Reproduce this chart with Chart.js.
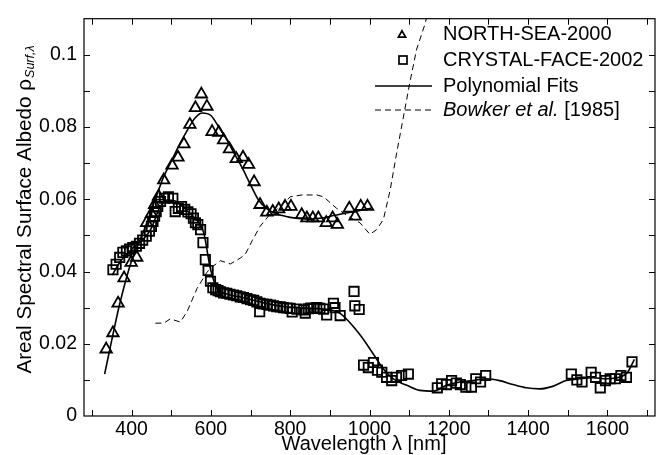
<!DOCTYPE html>
<html>
<head>
<meta charset="utf-8">
<script src="https://cdn.jsdelivr.net/npm/chart.js@4.4.0/dist/chart.umd.min.js"></script>
<style>
html, body { margin: 0; padding: 0; background: #fff; }
#wrap { width: 664px; height: 455px; }
</style>
</head>
<body>
<div id="wrap"><canvas id="albedoChart"></canvas></div>
<script>
// NORTH-SEA-2000 measurements (triangles)
const nsWave = [336, 353, 366, 381, 399, 413, 438, 450, 458, 468, 481, 502, 517, 532, 547, 561, 576, 590, 603, 620,
	632, 647, 664, 681, 695, 709, 724, 741, 756, 771, 787, 802, 829, 842, 857, 871, 891, 907, 919, 949, 964, 978, 995];
const nsAlbedo = [0.0185, 0.023, 0.0312, 0.0382, 0.0425, 0.0439, 0.0535, 0.056, 0.0585, 0.0608, 0.0653, 0.0694, 0.0716, 0.0753, 0.0807, 0.0853, 0.0891, 0.0857, 0.0787, 0.0785,
	0.0764, 0.0739, 0.0712, 0.0716, 0.0696, 0.0648, 0.0585, 0.0564, 0.0566, 0.0573, 0.058, 0.058, 0.0557, 0.0548, 0.0548, 0.0548, 0.0535, 0.0548, 0.053, 0.0575, 0.0553, 0.058, 0.058];

// CRYSTAL-FACE-2002 measurements (squares)
const cfWave = [353, 361, 370, 378, 387, 395, 403, 412, 420, 428, 437, 445, 450, 454, 458, 462, 466, 473, 483, 493,
	504, 510, 518, 526, 534, 542, 550, 556, 561, 567, 574, 580, 586, 593, 599, 605, 612, 618, 624, 632,
	640, 648, 657, 665, 674, 682, 691, 700, 708, 716, 724, 723, 732, 741, 750, 758, 766, 775, 783, 792,
	800, 805, 817, 834, 838, 846, 852, 859, 867, 875, 884, 892, 909, 913, 926, 961, 963, 974,
	985, 997, 1010, 1020, 1031, 1043, 1056, 1068, 1081, 1098,
	1171, 1182, 1194, 1207, 1219, 1229, 1243, 1257, 1268, 1280, 1293,
	1509, 1523, 1536, 1559, 1570, 1582, 1595, 1607, 1620, 1634, 1648, 1662];
const cfAlbedo = [0.0405, 0.042, 0.0439, 0.0453, 0.0457, 0.0462, 0.0466, 0.047, 0.0478, 0.0487, 0.0498, 0.0512, 0.0525, 0.0539, 0.0553, 0.0566, 0.058, 0.0594, 0.0603, 0.0607,
	0.0603, 0.0566, 0.0575, 0.058, 0.0572, 0.0565, 0.056, 0.0548, 0.0535, 0.053, 0.0516, 0.048, 0.0433, 0.0403, 0.0373, 0.0355, 0.035, 0.0347, 0.0344, 0.0341,
	0.034, 0.0337, 0.0335, 0.0333, 0.033, 0.0328, 0.0325, 0.0322, 0.032, 0.0316, 0.0312, 0.0289, 0.031, 0.0309, 0.0307, 0.0305, 0.0303, 0.0302, 0.03, 0.0299,
	0.0298, 0.0288, 0.0296, 0.0294, 0.0285, 0.0297, 0.0299, 0.0298, 0.03, 0.0298, 0.0296, 0.028, 0.0312, 0.03, 0.0278, 0.0345, 0.0305, 0.0295,
	0.0141, 0.0134, 0.0148, 0.0127, 0.0121, 0.0107, 0.0098, 0.0107, 0.0112, 0.0116,
	0.0078, 0.0089, 0.0087, 0.0098, 0.0091, 0.0087, 0.008, 0.008, 0.0103, 0.0094, 0.0112,
	0.0116, 0.01, 0.0094, 0.0121, 0.0107, 0.0078, 0.0098, 0.0103, 0.0103, 0.0112, 0.0107, 0.015];

// polynomial fits
const nsFitWave = [332, 350, 370, 400, 430, 460, 480, 500, 520, 540, 560, 578, 600, 620, 640, 660, 680, 700, 720, 740,
	760, 780, 800, 820, 850, 880, 910, 940, 970, 1005];
const nsFitAlbedo = [0.0116, 0.021, 0.031, 0.043, 0.051, 0.06, 0.066, 0.0705, 0.075, 0.079, 0.0825, 0.0839, 0.0832, 0.08, 0.0765, 0.0725, 0.0685, 0.064, 0.0598, 0.0575,
	0.0562, 0.0555, 0.055, 0.0547, 0.0545, 0.0548, 0.0555, 0.0562, 0.0568, 0.0576];
const cfFitWave = [351, 370, 400, 430, 450, 470, 490, 510, 530, 550, 570, 582, 599, 616, 640, 680, 720, 760, 800, 850,
	900, 926, 976, 1010, 1035, 1060, 1094, 1127, 1161, 1194, 1228, 1261, 1295, 1328, 1362, 1395, 1429, 1462, 1496, 1530,
	1563, 1597, 1630, 1651, 1668];
const cfFitAlbedo = [0.039, 0.0425, 0.0462, 0.049, 0.052, 0.0575, 0.0598, 0.0595, 0.0578, 0.0558, 0.0535, 0.0507, 0.0407, 0.0353, 0.0338, 0.0328, 0.0317, 0.0307, 0.0301, 0.0298,
	0.0294, 0.0284, 0.0225, 0.0171, 0.013, 0.0103, 0.0085, 0.0071, 0.0069, 0.0085, 0.0094, 0.0098, 0.0103, 0.0098, 0.0087, 0.0078, 0.0075, 0.0082, 0.0098, 0.0103,
	0.0106, 0.0103, 0.0107, 0.0121, 0.0157];

// Bowker et al. [1985]
const bowkerWave = [460, 481, 498, 523, 540, 565, 590, 607, 624, 649, 674, 687, 704, 724, 745, 775, 800, 830, 867, 884,
	917, 950, 976, 1001, 1018, 1035, 1052, 1068, 1085, 1102, 1119, 1140, 1160];
const bowkerAlbedo = [0.0257, 0.0257, 0.0269, 0.026, 0.0289, 0.0353, 0.0398, 0.0416, 0.043, 0.0421, 0.0437, 0.0448, 0.0485, 0.0525, 0.0553, 0.058, 0.0607, 0.0612, 0.0612, 0.0607,
	0.0575, 0.055, 0.0535, 0.0503, 0.0516, 0.0544, 0.0625, 0.0725, 0.0825, 0.0925, 0.1016, 0.1085, 0.118];

const xTickValues = [400, 600, 800, 1000, 1200, 1400, 1600];
const yTickValues = [0, 0.02, 0.04, 0.06, 0.08, 0.1];
const yTickLabels = ['0', '0.02', '0.04', '0.06', '0.08', '0.1'];
const xMarkValues = [300, 400, 500, 600, 700, 800, 900, 1000, 1100, 1200, 1300, 1400, 1500, 1600, 1700];
const yMarkValues = [0.01, 0.02, 0.03, 0.04, 0.05, 0.06, 0.07, 0.08, 0.09, 0.1];
const legendLabels = ['NORTH-SEA-2000', 'CRYSTAL-FACE-2002', 'Polynomial Fits', 'Bowker et al.', ' [1985]'];

const FONT = '"Liberation Sans", Arial, sans-serif';

let toPoints = function (xs, ys) {
	return xs.map(function (x, i) { return { x: x, y: ys[i] }; });
};

let extrasPlugin = {
	id: 'extras',
	afterDraw: function (chart) {
		let ctx = chart.ctx;
		let a = chart.chartArea;
		let xs = chart.scales.x, ys = chart.scales.y;
		ctx.save();
		ctx.strokeStyle = '#000';
		ctx.lineWidth = 1.2;
		ctx.strokeRect(a.left, a.top, a.right - a.left, a.bottom - a.top);

		// inward ticks on all four sides
		ctx.lineWidth = 1;
		ctx.beginPath();
		xMarkValues.forEach(function (v) {
			let px = Math.round(xs.getPixelForValue(v)) + 0.5;
			ctx.moveTo(px, a.bottom); ctx.lineTo(px, a.bottom - 6);
			ctx.moveTo(px, a.top); ctx.lineTo(px, a.top + 6);
		});
		yMarkValues.forEach(function (v) {
			let py = Math.round(ys.getPixelForValue(v)) + 0.5;
			ctx.moveTo(a.left, py); ctx.lineTo(a.left + 6, py);
			ctx.moveTo(a.right, py); ctx.lineTo(a.right - 6, py);
		});
		ctx.stroke();

		// legend
		let h = Chart.helpers;
		ctx.fillStyle = 'rgba(0,0,0,0)';
		ctx.lineWidth = 1.7;
		h.drawPoint(ctx, { pointStyle: 'triangle', radius: 4.2, rotation: 0, borderWidth: 1.7 }, 402, 35);
		ctx.strokeRect(399, 56, 8, 8);

		ctx.fillStyle = '#000';
		ctx.font = '20px ' + FONT;
		ctx.textBaseline = 'middle';
		ctx.textAlign = 'left';
		let tx = 443, rows = [34, 60, 86, 110];
		ctx.fillText(legendLabels[0], tx, rows[0]);
		ctx.fillText(legendLabels[1], tx, rows[1]);
		ctx.lineWidth = 1.6;
		ctx.beginPath();
		ctx.moveTo(375, rows[2]); ctx.lineTo(432, rows[2]);
		ctx.stroke();
		ctx.fillText(legendLabels[2], tx, rows[2]);
		ctx.lineWidth = 1;
		ctx.setLineDash([6, 4]);
		ctx.beginPath();
		ctx.moveTo(375, rows[3]); ctx.lineTo(432, rows[3]);
		ctx.stroke();
		ctx.setLineDash([]);
		ctx.font = 'italic 20px ' + FONT;
		ctx.fillText(legendLabels[3], tx, rows[3]);
		let w3 = ctx.measureText(legendLabels[3]).width;
		ctx.font = '20px ' + FONT;
		ctx.fillText(legendLabels[4], tx + w3, rows[3]);

		// x axis title
		ctx.textAlign = 'center';
		ctx.fillText('Wavelength λ [nm]', 364, 444);

		// y axis title with subscript
		ctx.translate(30.5, 210);
		ctx.rotate(-Math.PI / 2);
		ctx.textAlign = 'left';
		ctx.textBaseline = 'alphabetic';
		let mainText = 'Areal Spectral Surface Albedo ρ';
		let subText = 'Surf,λ';
		ctx.font = '20.7px ' + FONT;
		let wMain = ctx.measureText(mainText).width;
		ctx.font = 'italic 12.5px ' + FONT;
		let wSub = ctx.measureText(subText).width;
		let x0 = -(wMain + wSub) / 2;
		ctx.font = '20.7px ' + FONT;
		ctx.fillText(mainText, x0, 0);
		ctx.font = 'italic 12.5px ' + FONT;
		ctx.fillText(subText, x0 + wMain + 1, 3);
		ctx.restore();
	}
};

let chart = new Chart('albedoChart', {
	type: 'scatter',
	data: {
		datasets: [{
			label: 'NORTH-SEA-2000',
			data: toPoints(nsWave, nsAlbedo),
			pointStyle: 'triangle',
			pointRadius: 6.6,
			borderColor: '#000',
			backgroundColor: 'rgba(0,0,0,0)',
			borderWidth: 1.8
		}, {
			label: 'CRYSTAL-FACE-2002',
			data: toPoints(cfWave, cfAlbedo),
			pointStyle: 'rect',
			pointRadius: 6.6,
			borderColor: '#000',
			backgroundColor: 'rgba(0,0,0,0)',
			borderWidth: 1.8
		}, {
			label: 'Polynomial Fits',
			data: toPoints(nsFitWave, nsFitAlbedo),
			showLine: true,
			pointRadius: 0,
			borderColor: '#000',
			borderWidth: 1.6,
			cubicInterpolationMode: 'monotone'
		}, {
			label: 'Polynomial Fits (CF)',
			data: toPoints(cfFitWave, cfFitAlbedo),
			showLine: true,
			pointRadius: 0,
			borderColor: '#000',
			borderWidth: 1.6,
			cubicInterpolationMode: 'monotone'
		}, {
			label: 'Bowker et al. [1985]',
			data: toPoints(bowkerWave, bowkerAlbedo),
			showLine: true,
			pointRadius: 0,
			borderColor: '#000',
			borderWidth: 1,
			borderDash: [6, 4]
		}]
	},
	options: {
		responsive: true,
		maintainAspectRatio: false,
		animation: false,
		devicePixelRatio: 1,
		layout: { padding: { top: 14, right: 9, left: 0, bottom: 0 } },
		plugins: {
			legend: { display: false },
			tooltip: { enabled: false }
		},
		scales: {
			x: {
				type: 'linear',
				min: 280,
				max: 1720,
				grid: { display: false, drawTicks: false },
				border: { display: false },
				ticks: {
					color: '#000',
					font: { family: FONT, size: 19.5 },
					padding: 2,
					maxRotation: 0,
					autoSkip: false,
					callback: function (v) { return String(v); }
				},
				afterBuildTicks: function (s) { s.ticks = xTickValues.map(function (v) { return { value: v }; }); },
				afterFit: function (s) { s.height = 39; }
			},
			y: {
				type: 'linear',
				min: 0,
				max: 0.11,
				grid: { display: false, drawTicks: false },
				border: { display: false },
				ticks: {
					color: '#000',
					font: { family: FONT, size: 19.5 },
					padding: 7,
					autoSkip: false,
					callback: function (v, i) { return yTickLabels[i]; }
				},
				afterBuildTicks: function (s) { s.ticks = yTickValues.map(function (v) { return { value: v }; }); },
				afterFit: function (s) { s.width = 84; }
			}
		}
	},
	plugins: [extrasPlugin]
});
</script>
</body>
</html>
